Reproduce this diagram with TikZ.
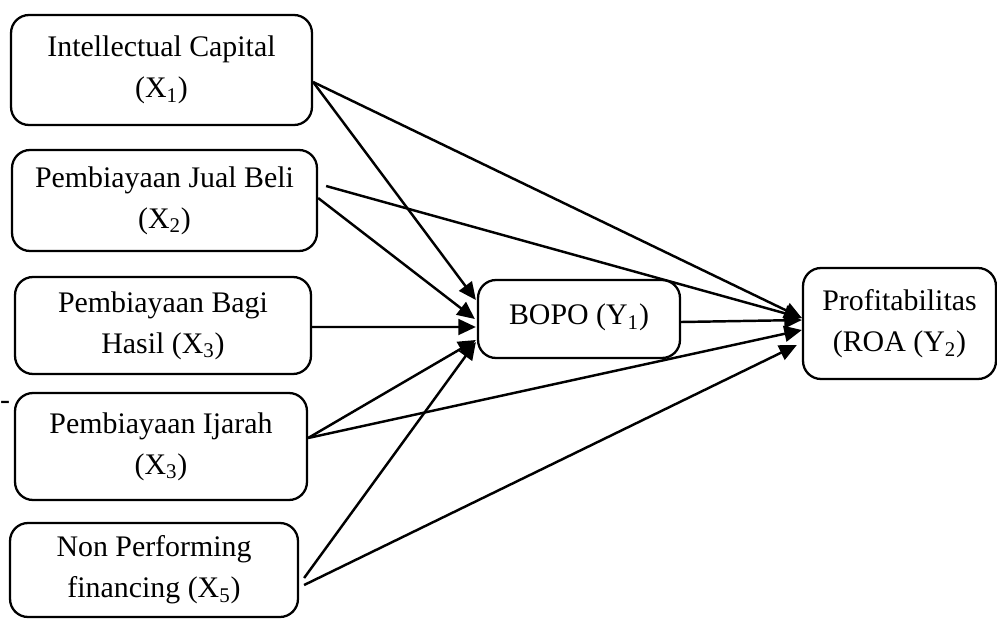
\documentclass[tikz,border=0pt]{standalone}
\usepackage{fontspec}
\setmainfont{Liberation Serif}
\usetikzlibrary{arrows.meta}

\begin{document}
\begin{tikzpicture}[x=0.02cm, y=-0.02cm,
    every node/.style={font=\fontsize{17}{23.5}\selectfont},
    varbox/.style={draw, line width=1.3pt, rounded corners=0.36cm, align=center, inner sep=0pt},
    path/.style={line width=1.4pt, -{Triangle[length=10pt,width=9pt]}}]
    \useasboundingbox (0,0) rectangle (997,619);

    % Variabel independen (kiri)
    \node[varbox, minimum width=6.02cm, minimum height=2.2cm] (x1) at (161.5,70) {Intellectual Capital\\(X\textsubscript{1})};
    \node[varbox, minimum width=6.1cm, minimum height=2.02cm] (x2) at (164.5,200.5) {Pembiayaan Jual Beli\\(X\textsubscript{2})};
    \node[varbox, minimum width=5.92cm, minimum height=1.94cm] (x3) at (163,325.5) {Pembiayaan Bagi\\Hasil (X\textsubscript{3})};
    \node[varbox, minimum width=5.84cm, minimum height=2.14cm] (x4) at (161,446.5) {Pembiayaan Ijarah\\(X\textsubscript{3})};
    \node[varbox, minimum width=5.76cm, minimum height=1.88cm] (x5) at (154,570) {Non Performing\\financing (X\textsubscript{5})};
    \node (dash) at (5,405) {-};

    % Intervening dan dependen
    \node[varbox, minimum width=4.04cm, minimum height=1.56cm] (bopo) at (579,319) {\raisebox{5pt}{BOPO (Y\textsubscript{1})}};
    \node[varbox, minimum width=3.86cm, minimum height=2.22cm] (roa) at (899.5,323.5) {Profitabilitas\\(ROA (Y\textsubscript{2})};

    % Jalur ke BOPO
    \draw[path] ([yshift=-0.24cm]x1.east) -- ([xshift=-0.02cm, yshift=0.38cm]bopo.west);
    \draw[path] ([yshift=0.05cm]x2.east) -- ([xshift=-0.04cm]bopo.west);
    \draw[path] ([yshift=-0.03cm]x3.east) -- ([xshift=-0.02cm, yshift=-0.16cm]bopo.west);
    \draw[path] ([yshift=0.17cm]x4.east) -- ([xshift=-0.02cm, yshift=-0.42cm]bopo.west);
    \draw[path] ([xshift=0.1cm, yshift=-0.16cm]x5.east) -- ([xshift=-0.02cm, yshift=-0.46cm]bopo.west);

    % Jalur ke ROA
    \draw[path] ([yshift=-0.24cm]x1.east) -- ([yshift=0.11cm]roa.west);
    \draw[path] ([xshift=0.16cm, yshift=0.29cm]x2.east) -- ([yshift=0.11cm]roa.west);
    \draw[path] ([yshift=0.17cm]x4.east) -- ([yshift=-0.13cm]roa.west);
    \draw[path] ([xshift=0.1cm, yshift=-0.3cm]x5.east) -- ([xshift=-0.1cm, yshift=-0.43cm]roa.west);
    \draw[path] ([yshift=-0.06cm]bopo.east) -- ([yshift=0.07cm]roa.west);
\end{tikzpicture}
\end{document}
